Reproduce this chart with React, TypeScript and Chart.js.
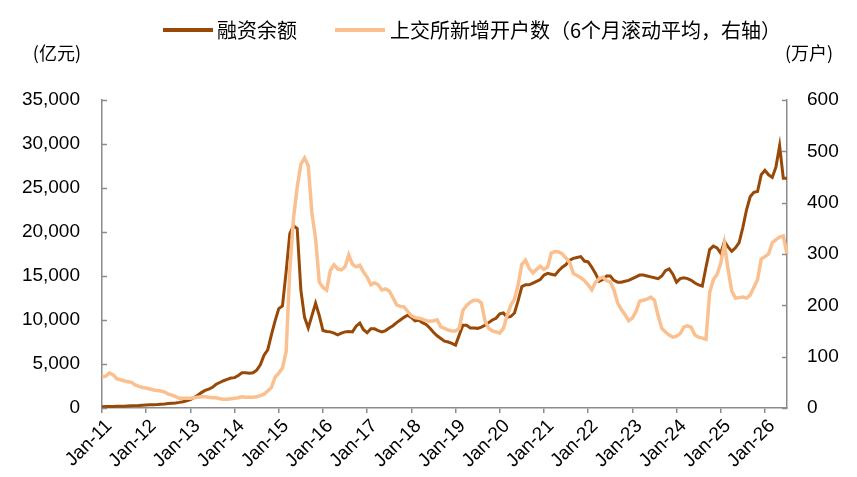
import { useRef, useEffect } from 'react';
import { Chart, registerables } from 'chart.js';

Chart.register(...registerables);

// x-axis categories: one point a month from Jan-11
const MONTHS = ['Jan', 'Feb', 'Mar', 'Apr', 'May', 'Jun', 'Jul', 'Aug', 'Sep', 'Oct', 'Nov', 'Dec'];
const YEARS = ['11', '12', '13', '14', '15', '16', '17', '18', '19', '20', '21', '22', '23', '24', '25', '26'];

// 融资余额 (亿元), left axis
const marginBalance = [
    150, 160, 170, 180, 190, 200, 210, 230, 250, 270, 290, 320, // 2011
    340, 360, 380, 400, 430, 460, 500, 540, 580, 640, 720, 820, // 2012
    950, 1200, 1450, 1750, 2000, 2150, 2350, 2700, 2900, 3100, 3250, 3400, // 2013
    3450, 3700, 4000, 4000, 3950, 4000, 4300, 4900, 6000, 6600, 8300, 9900, // 2014
    11300, 11600, 15500, 19800, 20700, 20400, 13400, 10300, 9100, 10500, 11900, 10500, // 2015
    8800, 8700, 8650, 8500, 8300, 8500, 8650, 8700, 8650, 9300, 9650, 8900, // 2016
    8550, 9000, 9000, 8800, 8650, 8800, 9100, 9350, 9700, 10000, 10300, 10550, // 2017
    10300, 9900, 10000, 9700, 9500, 9100, 8600, 8200, 7900, 7600, 7500, 7350, // 2018
    7150, 8300, 9400, 9400, 9100, 9100, 9050, 9200, 9400, 9700, 10000, 10200, // 2019
    10700, 10800, 10300, 10400, 10800, 12200, 13800, 14000, 14000, 14200, 14400, 14600, // 2020
    15100, 15300, 15200, 15100, 15600, 16000, 16300, 16800, 17000, 17100, 17200, 16700, // 2021
    16600, 16000, 15300, 14400, 14600, 15000, 15000, 14500, 14300, 14300, 14400, 14500, // 2022
    14700, 14900, 15100, 15100, 15000, 14900, 14800, 14700, 15000, 15600, 15800, 15200, // 2023
    14300, 14700, 14800, 14700, 14500, 14200, 14000, 13850, 16000, 18000, 18400, 18200, // 2024
    17600, 18900, 18300, 17800, 18200, 18800, 20500, 22500, 24000, 24500, 24600, 26500, // 2025
    27000, 26500, 26200, 27400, 29800, 26100, 26100, // 2026
];

// 上交所新增开户数, 6-month rolling average (万户), right axis
const newAccounts = [
    61, 62, 68, 65, 57, 55, 53, 51, 50, 45, 42, 40, // 2011
    39, 37, 35, 34, 33, 31, 27, 25, 22, 19, 19, 19, // 2012
    19, 20, 21, 22, 22, 21, 20, 20, 18, 17, 17, 18, // 2013
    19, 20, 22, 21, 21, 21, 22, 24, 27, 33, 40, 60, // 2014
    68, 78, 110, 270, 370, 430, 475, 487, 472, 380, 330, 245, // 2015
    235, 230, 268, 279, 271, 269, 275, 298, 280, 275, 278, 265, // 2016
    255, 240, 244, 240, 230, 232, 228, 215, 201, 198, 197, 188, // 2017
    180, 176, 175, 173, 170, 169, 170, 172, 158, 155, 152, 150, // 2018
    150, 155, 190, 200, 206, 210, 210, 205, 170, 155, 150, 148, // 2019
    146, 155, 180, 200, 212, 240, 280, 288, 272, 263, 270, 276, // 2020
    270, 275, 302, 305, 304, 300, 292, 283, 262, 258, 254, 248, // 2021
    240, 230, 245, 252, 255, 248, 246, 230, 205, 192, 182, 170, // 2022
    175, 188, 208, 210, 212, 216, 210, 180, 155, 148, 142, 138, // 2023
    140, 145, 158, 160, 157, 142, 138, 136, 134, 225, 250, 260, // 2024
    282, 320, 270, 228, 214, 215, 216, 214, 220, 235, 250, 290, // 2025
    295, 300, 322, 328, 333, 335, 300, // 2026
];

const labels = marginBalance.map((_, i) => `${MONTHS[i % 12]}-${YEARS[Math.floor(i / 12)]}`);

const AXIS = '#8c8c8c';
const BROWN = '#984807';
const LIGHT = '#fac090';
const NUM_FONT = '"Liberation Sans", Arial, sans-serif';
const CJK_FONT = '"Noto Sans CJK SC", "Liberation Sans", sans-serif';

// tick marks pointing into the plot on both value axes
const inwardTicks = {
    id: 'inwardTicks',
    afterDraw(chart) {
        const { ctx, chartArea, scales } = chart;
        ctx.save();
        ctx.strokeStyle = AXIS;
        ctx.lineWidth = 1.5;
        scales.y.ticks.forEach(t => {
            const py = Math.round(scales.y.getPixelForValue(t.value)) + 0.5;
            ctx.beginPath();
            ctx.moveTo(chartArea.left, py);
            ctx.lineTo(chartArea.left + 5, py);
            ctx.stroke();
        });
        scales.y1.ticks.forEach(t => {
            const py = Math.round(scales.y1.getPixelForValue(t.value)) + 0.5;
            ctx.beginPath();
            ctx.moveTo(chartArea.right - 5, py);
            ctx.lineTo(chartArea.right, py);
            ctx.stroke();
        });
        ctx.restore();
    }
};

const MarginChart = () => {
    const canvasRef = useRef(null);
    const chartRef = useRef(null);

    useEffect(() => {
        if (!canvasRef.current) return;
        if (chartRef.current) chartRef.current.destroy();

        chartRef.current = new Chart(canvasRef.current, {
            type: 'line',
            data: {
                labels: labels,
                datasets: [
                    {
                        label: '融资余额',
                        data: marginBalance,
                        yAxisID: 'y',
                        borderColor: BROWN,
                        backgroundColor: BROWN,
                        borderWidth: 3,
                        pointRadius: 0,
                        order: 1
                    },
                    {
                        label: '上交所新增开户数（6个月滚动平均，右轴）',
                        data: newAccounts,
                        yAxisID: 'y1',
                        borderColor: LIGHT,
                        backgroundColor: LIGHT,
                        borderWidth: 3.5,
                        pointRadius: 0,
                        order: 0
                    }
                ]
            },
            options: {
                animation: false,
                responsive: true,
                maintainAspectRatio: false,
                layout: { padding: { top: 100 } },
                plugins: {
                    legend: { display: false },
                    tooltip: { enabled: false }
                },
                scales: {
                    x: {
                        afterBuildTicks: (axis) => { axis.ticks = axis.ticks.filter(t => t.value % 12 === 0); },
                        afterFit: (scale) => { scale.height = 69; },
                        border: { display: true, color: AXIS, width: 1.5 },
                        grid: { display: true, drawOnChartArea: false, drawTicks: true, tickLength: 5, color: AXIS, lineWidth: 1.5 },
                        ticks: {
                            autoSkip: false,
                            maxRotation: 45,
                            minRotation: 45,
                            padding: 2,
                            labelOffset: 7,
                            color: '#000',
                            font: { family: NUM_FONT, size: 19 }
                        }
                    },
                    y: {
                        position: 'left',
                        min: 0,
                        max: 35000,
                        afterFit: (scale) => { scale.width = 102; },
                        border: { display: true, color: AXIS, width: 1.5 },
                        grid: { display: false, drawTicks: false },
                        ticks: {
                            stepSize: 5000,
                            padding: 22,
                            color: '#000',
                            font: { family: NUM_FONT, size: 19 },
                            callback: (v) => Number(v).toLocaleString('en-US')
                        }
                    },
                    y1: {
                        position: 'right',
                        min: 0,
                        max: 600,
                        afterFit: (scale) => { scale.width = 70; },
                        border: { display: true, color: AXIS, width: 1.5 },
                        grid: { display: false, drawTicks: false },
                        ticks: {
                            stepSize: 100,
                            padding: 20,
                            color: '#000',
                            font: { family: NUM_FONT, size: 19 }
                        }
                    }
                }
            },
            plugins: [inwardTicks]
        });

        return () => { if (chartRef.current) chartRef.current.destroy(); };
    }, []);

    const text = { position: 'absolute', fontFamily: CJK_FONT, color: '#000', whiteSpace: 'nowrap', lineHeight: '24px' } as const;

    return (
        <div style={{ position: 'absolute', left: 0, top: 0, width: 857, height: 477, background: '#fff' }}>
            <canvas ref={canvasRef}></canvas>
            <div style={{ position: 'absolute', left: 163, top: 28, width: 50, height: 4, background: BROWN }}></div>
            <div style={{ ...text, left: 217, top: 18, fontSize: 20 }}>融资余额</div>
            <div style={{ position: 'absolute', left: 335, top: 28, width: 50, height: 4, background: LIGHT }}></div>
            <div style={{ ...text, left: 390, top: 18, fontSize: 20 }}>上交所新增开户数（6个月滚动平均，右轴）</div>
            <div style={{ ...text, right: 857 - 81, top: 40, fontSize: 18 }}>(亿元)</div>
            <div style={{ ...text, left: 785, top: 40, fontSize: 18 }}>(万户)</div>
        </div>
    );
};

export default function App() {
    return <MarginChart />;
}
